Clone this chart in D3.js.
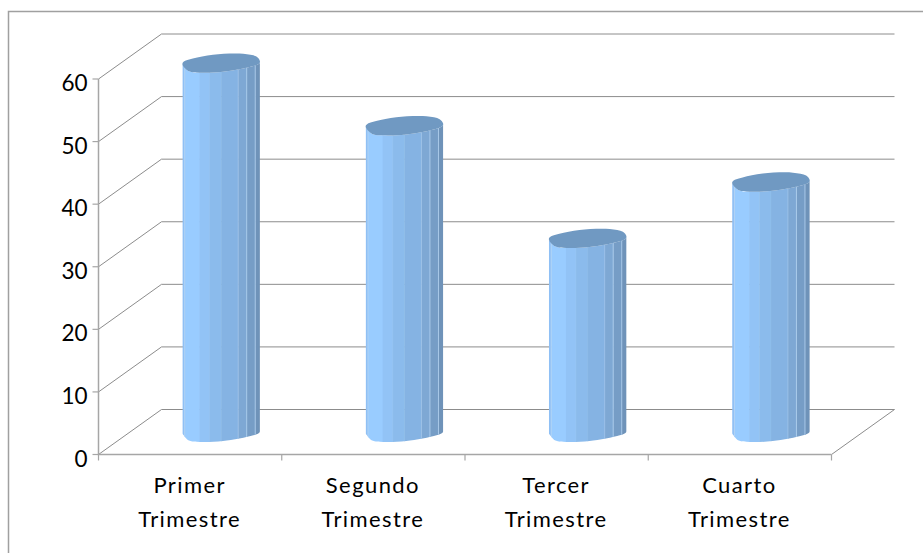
<!DOCTYPE html>
<html><head><meta charset="utf-8">
<script src="https://cdn.jsdelivr.net/npm/d3@7/dist/d3.min.js"></script>
<style>html,body{margin:0;padding:0;background:#fff}svg{display:block}text{font-family:Lato,"Open Sans",sans-serif;fill:#000}</style>
</head><body><svg id="c" width="924" height="553"></svg>
<script>
const categories=[["Primer","Trimestre"],["Segundo","Trimestre"],["Tercer","Trimestre"],["Cuarto","Trimestre"]];
const values=[59,49,31,40];
const ticks=[0,10,20,30,40,50,60];
const facetColors=["#8fc0f5","#99ccff","#92c3f6","#8bbbec","#85b3e3","#7ea8d4","#769dc6","#6f93b9"];
const facetStops=[0,0.03,0.22,0.35,0.5,0.72,0.83,0.94,1];
const facetSeparator=[0,0.9,0,0.15,0.15,0.5,0.8,0.8];
const capColor="#7099c2";
// end-disc outline as fractions of the half width and of the disc's vertical radius
const capX=[-1,-0.97,-0.73,-0.21,0.57,0.91,1,0.99,0.83,0.05,-0.55,-0.83];
const capY=[0.1,-0.15,-0.5,-0.9,-1,-0.7,-0.25,0,0.3,0.9,1,0.85];
const lowerRim=[0,11,10,9,8,7,6];   // indexes of capX/capY forming the lower rim, left to right
const svg=d3.select("#c");
const W=924,H=553;
const x=d3.scaleBand().domain(d3.range(categories.length)).range([98.5,831.5]);
const y=d3.scaleLinear().domain([0,60]).range([454.5,79]);
const depth={x:63,y:-45};
const gridC="#8c8c8c",axisC="#a6a6a6";
svg.append("path").attr("d",`M8.5,${H}V11.5H${W-1}`).attr("fill","none").attr("stroke","#a0a0a0").attr("stroke-width",1.5);
const g=svg.append("g");
ticks.forEach(t=>{
  const yy=y(t);
  g.append("path").attr("fill","none").attr("stroke",gridC).attr("stroke-width",1)
   .attr("d",`M${x.range()[0]},${yy}L${x.range()[0]+depth.x},${yy+depth.y}H${x.range()[1]+depth.x}`);
});
g.append("line").attr("x1",x.range()[1]).attr("y1",y(0)).attr("x2",x.range()[1]+depth.x).attr("y2",y(0)+depth.y).attr("stroke",gridC);
g.append("path").attr("fill","none").attr("stroke",axisC).attr("stroke-width",1.5)
 .attr("d",`M${x.range()[0]},${y(60)}V${y(0)}H${x.range()[1]}`);
ticks.forEach(t=>g.append("line").attr("x1",x.range()[0]-6).attr("x2",x.range()[0]).attr("y1",y(t)).attr("y2",y(t)).attr("stroke",axisC).attr("stroke-width",1.2));
d3.range(categories.length+1).forEach(i=>{
  const px=x.range()[0]+i*x.step();
  g.append("line").attr("x1",px).attr("x2",px).attr("y1",y(0)).attr("y2",y(0)+6).attr("stroke",axisC).attr("stroke-width",1.2);
});
ticks.forEach(t=>g.append("text").attr("x",87.5).attr("y",y(t)+12).attr("text-anchor","end").attr("font-size",22.5).text(t));
categories.forEach((c,i)=>{
  const cx=x(i)+x.bandwidth()/2-0.5;
  c.forEach((s,j)=>g.append("text").attr("x",cx).attr("y",493+j*34).attr("text-anchor","middle").attr("font-size",22).attr("letter-spacing",1.4).text(s));
});
const barW=77.5,baseDy=-22,shiftX=31;
const rim=d3.line().curve(d3.curveCatmullRom.alpha(0.5));
values.forEach((v,i)=>{
  const cx=x(i)+x.bandwidth()/2+shiftX;
  const rx=barW/2,ry=9.5;
  const pt=(k,cy)=>[cx+rx*capX[k],cy+ry*capY[k]];
  const topC=y(v)+baseDy, botC=y(0)+baseDy;
  const clipId="b"+i;
  const lo=lowerRim.map(k=>pt(k,botC));
  const hi=lowerRim.slice().reverse().map(k=>pt(k,topC));
  svg.append("clipPath").attr("id",clipId).append("path").attr("d",rim(lo)+"L"+rim(hi).slice(1)+"Z");
  const bg=svg.append("g").attr("clip-path",`url(#${clipId})`);
  facetColors.forEach((col,k)=>{
    const a=cx-rx+facetStops[k]*barW,b=cx-rx+facetStops[k+1]*barW;
    bg.append("rect").attr("x",a).attr("width",b-a+0.5).attr("y",topC-30).attr("height",botC-topC+70).attr("fill",col);
    if(facetSeparator[k]) bg.append("line").attr("x1",a).attr("x2",a).attr("y1",topC-30).attr("y2",botC+40).attr("stroke","#b5d4f3").attr("stroke-opacity",facetSeparator[k]).attr("stroke-width",1);
  });
  const cap=capX.map((_,k)=>pt(k,topC));
  svg.append("path").attr("d",d3.line().curve(d3.curveCatmullRomClosed.alpha(0.5))(cap)).attr("fill",capColor);
});
</script></body></html>
